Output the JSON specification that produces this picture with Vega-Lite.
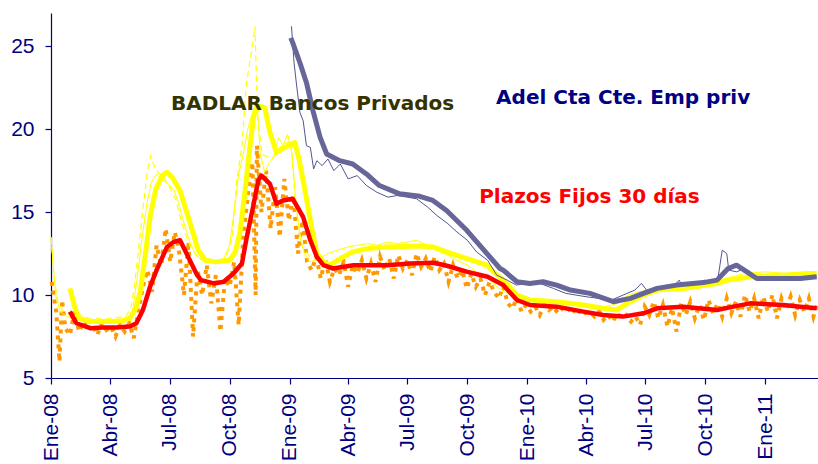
{
  "$schema": "https://vega.github.io/schema/vega-lite/v6.json",
  "width": 767,
  "height": 365,
  "autosize": {"type": "none"},
  "padding": {"left": 51, "top": 13, "right": 0, "bottom": 86},
  "background": "white",
  "config": {"view": {"stroke": null}},
  "datasets": {
    "badlar_ma": [
      {"d":"2008-01-30","v":10.4},{"d":"2008-02-07","v":9.2},{"d":"2008-02-14","v":8.6},{"d":"2008-03-01","v":8.4},{"d":"2008-04-01","v":8.4},{"d":"2008-04-20","v":8.45},{"d":"2008-05-01","v":8.6},{"d":"2008-05-10","v":9.2},{"d":"2008-05-17","v":10.2},{"d":"2008-05-25","v":12.5},{"d":"2008-06-01","v":14.7},{"d":"2008-06-10","v":16.4},{"d":"2008-06-20","v":17.2},{"d":"2008-06-27","v":17.4},{"d":"2008-07-05","v":17.1},{"d":"2008-07-17","v":16.3},{"d":"2008-08-01","v":14.4},{"d":"2008-08-14","v":12.7},{"d":"2008-08-25","v":12.1},{"d":"2008-09-10","v":12.0},{"d":"2008-10-01","v":12.1},{"d":"2008-10-10","v":12.6},{"d":"2008-10-17","v":13.8},{"d":"2008-10-24","v":16.0},{"d":"2008-10-31","v":18.5},{"d":"2008-11-07","v":20.8},{"d":"2008-11-14","v":21.4},{"d":"2008-11-24","v":21.3},{"d":"2008-12-02","v":19.8},{"d":"2008-12-12","v":18.6},{"d":"2008-12-25","v":18.9},{"d":"2009-01-09","v":19.2},{"d":"2009-01-15","v":18.3},{"d":"2009-01-22","v":16.9},{"d":"2009-02-02","v":14.5},{"d":"2009-02-12","v":12.5},{"d":"2009-02-22","v":12.0},{"d":"2009-03-04","v":11.8},{"d":"2009-03-20","v":12.2},{"d":"2009-04-08","v":12.6},{"d":"2009-05-01","v":12.8},{"d":"2009-05-30","v":12.9},{"d":"2009-07-20","v":12.95},{"d":"2009-08-09","v":12.9},{"d":"2009-08-30","v":12.6},{"d":"2009-09-30","v":12.2},{"d":"2009-10-31","v":11.8},{"d":"2009-11-10","v":11.4},{"d":"2009-11-25","v":10.9},{"d":"2009-12-16","v":10.0},{"d":"2010-01-05","v":9.7},{"d":"2010-02-15","v":9.6},{"d":"2010-03-28","v":9.4},{"d":"2010-04-27","v":9.2},{"d":"2010-05-18","v":9.1},{"d":"2010-06-08","v":9.6},{"d":"2010-06-28","v":10.0},{"d":"2010-07-19","v":10.3},{"d":"2010-08-28","v":10.4},{"d":"2010-10-19","v":10.7},{"d":"2010-11-05","v":10.9},{"d":"2010-12-09","v":11.1},{"d":"2011-01-29","v":11.2},{"d":"2011-03-21","v":11.3}
    ],
    "badlar": [
      {"d":"2008-01-01","v":13.5},{"d":"2008-01-05","v":11.5},{"d":"2008-01-09","v":9.8},{"d":"2008-01-15","v":9.0},{"d":"2008-01-22","v":8.8},{"d":"2008-02-01","v":8.6},{"d":"2008-02-15","v":8.5},{"d":"2008-03-01","v":8.4},{"d":"2008-03-15","v":8.5},{"d":"2008-04-01","v":8.4},{"d":"2008-04-15","v":8.5},{"d":"2008-05-01","v":8.7},{"d":"2008-05-06","v":9.2},{"d":"2008-05-12","v":11.0},{"d":"2008-05-20","v":13.5},{"d":"2008-05-27","v":15.5},{"d":"2008-06-03","v":16.8},{"d":"2008-06-11","v":17.3},{"d":"2008-06-18","v":17.0},{"d":"2008-06-25","v":16.8},{"d":"2008-07-01","v":16.6},{"d":"2008-07-08","v":16.3},{"d":"2008-07-15","v":15.5},{"d":"2008-07-24","v":14.2},{"d":"2008-08-01","v":13.2},{"d":"2008-08-10","v":12.4},{"d":"2008-08-20","v":12.1},{"d":"2008-09-01","v":12.0},{"d":"2008-09-20","v":12.0},{"d":"2008-10-01","v":13.0},{"d":"2008-10-08","v":15.0},{"d":"2008-10-15","v":17.3},{"d":"2008-10-22","v":18.5},{"d":"2008-10-29","v":20.0},{"d":"2008-11-05","v":21.0},{"d":"2008-11-12","v":21.8},{"d":"2008-11-17","v":18.5},{"d":"2008-11-24","v":17.4},{"d":"2008-12-01","v":18.0},{"d":"2008-12-08","v":18.3},{"d":"2008-12-15","v":19.5},{"d":"2008-12-22","v":19.0},{"d":"2008-12-29","v":19.7},{"d":"2009-01-05","v":18.5},{"d":"2009-01-10","v":16.0},{"d":"2009-01-17","v":13.5},{"d":"2009-01-24","v":12.5},{"d":"2009-02-01","v":12.0},{"d":"2009-02-15","v":12.2},{"d":"2009-03-01","v":12.5},{"d":"2009-03-15","v":12.7},{"d":"2009-04-01","v":12.9},{"d":"2009-04-15","v":13.0},{"d":"2009-05-01","v":13.1},{"d":"2009-05-15","v":13.0},{"d":"2009-06-01","v":13.2},{"d":"2009-06-15","v":13.1},{"d":"2009-07-01","v":13.2},{"d":"2009-07-15","v":13.3},{"d":"2009-08-01","v":13.0},{"d":"2009-08-15","v":12.7},{"d":"2009-09-01","v":12.4},{"d":"2009-09-15","v":12.1},{"d":"2009-10-01","v":11.8},{"d":"2009-10-15","v":11.4},{"d":"2009-11-01","v":11.0},{"d":"2009-11-15","v":10.5},{"d":"2009-12-01","v":10.1},{"d":"2009-12-15","v":9.9},{"d":"2010-01-01","v":9.8},{"d":"2010-02-01","v":9.7},{"d":"2010-03-01","v":9.5},{"d":"2010-04-01","v":9.4},{"d":"2010-05-01","v":9.3},{"d":"2010-05-20","v":9.5},{"d":"2010-06-05","v":10.0},{"d":"2010-06-20","v":10.2},{"d":"2010-07-10","v":10.3},{"d":"2010-08-10","v":10.5},{"d":"2010-09-10","v":10.5},{"d":"2010-10-10","v":10.8},{"d":"2010-11-01","v":11.0},{"d":"2010-12-01","v":11.3},{"d":"2011-01-01","v":11.4},{"d":"2011-02-01","v":11.3},{"d":"2011-03-01","v":11.4},{"d":"2011-03-21","v":11.4}
    ],
    "badlar2": [
      {"d":"2008-01-01","v":13.5},{"d":"2008-01-06","v":11.0},{"d":"2008-01-12","v":9.5},{"d":"2008-01-20","v":9.0},{"d":"2008-02-01","v":8.8},{"d":"2008-03-01","v":8.6},{"d":"2008-04-01","v":8.6},{"d":"2008-04-25","v":8.7},{"d":"2008-05-03","v":9.3},{"d":"2008-05-08","v":10.5},{"d":"2008-05-15","v":13.0},{"d":"2008-05-22","v":15.5},{"d":"2008-05-28","v":17.5},{"d":"2008-06-02","v":18.4},{"d":"2008-06-09","v":17.6},{"d":"2008-06-16","v":17.3},{"d":"2008-06-23","v":17.0},{"d":"2008-07-01","v":16.5},{"d":"2008-07-10","v":15.8},{"d":"2008-07-20","v":14.3},{"d":"2008-08-01","v":13.0},{"d":"2008-08-15","v":12.2},{"d":"2008-09-01","v":12.0},{"d":"2008-09-25","v":12.2},{"d":"2008-10-05","v":13.5},{"d":"2008-10-12","v":16.9},{"d":"2008-10-20","v":19.0},{"d":"2008-10-27","v":22.8},{"d":"2008-11-03","v":24.5},{"d":"2008-11-09","v":26.2},{"d":"2008-11-13","v":20.7},{"d":"2008-11-20","v":18.5},{"d":"2008-12-05","v":18.2},{"d":"2008-12-20","v":19.0},{"d":"2009-01-03","v":19.3},{"d":"2009-01-10","v":15.5},{"d":"2009-01-20","v":13.0},{"d":"2009-02-01","v":12.3}
    ],
    "pf_ma": [
      {"d":"2008-01-30","v":9.0},{"d":"2008-02-09","v":8.3},{"d":"2008-03-01","v":8.0},{"d":"2008-03-20","v":8.05},{"d":"2008-04-10","v":8.05},{"d":"2008-05-01","v":8.1},{"d":"2008-05-11","v":8.3},{"d":"2008-05-21","v":9.1},{"d":"2008-06-01","v":10.5},{"d":"2008-06-11","v":11.5},{"d":"2008-06-27","v":12.9},{"d":"2008-07-07","v":13.2},{"d":"2008-07-17","v":13.3},{"d":"2008-07-27","v":12.5},{"d":"2008-08-11","v":11.3},{"d":"2008-08-18","v":10.9},{"d":"2008-09-07","v":10.7},{"d":"2008-09-22","v":10.8},{"d":"2008-10-07","v":11.3},{"d":"2008-10-20","v":11.9},{"d":"2008-10-27","v":13.4},{"d":"2008-11-06","v":15.3},{"d":"2008-11-14","v":16.9},{"d":"2008-11-19","v":17.2},{"d":"2008-12-02","v":16.7},{"d":"2008-12-12","v":15.5},{"d":"2008-12-22","v":15.7},{"d":"2009-01-06","v":15.8},{"d":"2009-01-22","v":14.7},{"d":"2009-02-02","v":13.3},{"d":"2009-02-12","v":12.3},{"d":"2009-02-22","v":11.8},{"d":"2009-03-09","v":11.6},{"d":"2009-04-09","v":11.8},{"d":"2009-05-31","v":11.8},{"d":"2009-07-05","v":11.9},{"d":"2009-08-10","v":11.95},{"d":"2009-09-01","v":11.75},{"d":"2009-10-01","v":11.4},{"d":"2009-11-01","v":11.1},{"d":"2009-11-25","v":10.6},{"d":"2009-12-16","v":9.7},{"d":"2010-01-05","v":9.4},{"d":"2010-02-15","v":9.3},{"d":"2010-03-28","v":9.0},{"d":"2010-04-27","v":8.8},{"d":"2010-05-28","v":8.7},{"d":"2010-06-28","v":8.9},{"d":"2010-07-19","v":9.2},{"d":"2010-08-28","v":9.3},{"d":"2010-10-19","v":9.1},{"d":"2010-11-13","v":9.3},{"d":"2010-12-09","v":9.5},{"d":"2011-01-29","v":9.4},{"d":"2011-02-24","v":9.3},{"d":"2011-03-21","v":9.2}
    ],
    "pf": [
      {"d":"2008-01-02","v":10.8},{"d":"2008-01-09","v":9.0},{"d":"2008-01-14","v":6.0},{"d":"2008-01-18","v":9.7},{"d":"2008-01-23","v":8.0},{"d":"2008-01-30","v":7.6},{"d":"2008-02-06","v":9.0},{"d":"2008-02-13","v":7.8},{"d":"2008-02-20","v":8.4},{"d":"2008-02-27","v":7.9},{"d":"2008-03-05","v":8.2},{"d":"2008-03-12","v":7.6},{"d":"2008-03-19","v":8.3},{"d":"2008-03-26","v":7.9},{"d":"2008-04-02","v":8.1},{"d":"2008-04-09","v":7.5},{"d":"2008-04-16","v":8.2},{"d":"2008-04-23","v":7.8},{"d":"2008-04-30","v":8.3},{"d":"2008-05-07","v":7.4},{"d":"2008-05-14","v":9.0},{"d":"2008-05-21","v":10.5},{"d":"2008-05-28","v":11.5},{"d":"2008-06-04","v":10.2},{"d":"2008-06-11","v":13.0},{"d":"2008-06-18","v":11.8},{"d":"2008-06-25","v":14.0},{"d":"2008-07-02","v":12.0},{"d":"2008-07-09","v":13.8},{"d":"2008-07-16","v":12.5},{"d":"2008-07-23","v":10.0},{"d":"2008-07-30","v":13.2},{"d":"2008-08-06","v":7.5},{"d":"2008-08-13","v":11.5},{"d":"2008-08-20","v":10.0},{"d":"2008-08-27","v":11.8},{"d":"2008-09-03","v":9.5},{"d":"2008-09-10","v":11.2},{"d":"2008-09-17","v":7.8},{"d":"2008-09-24","v":11.0},{"d":"2008-10-01","v":10.5},{"d":"2008-10-08","v":12.0},{"d":"2008-10-15","v":8.2},{"d":"2008-10-22","v":13.5},{"d":"2008-10-29","v":16.0},{"d":"2008-11-05","v":18.0},{"d":"2008-11-10","v":10.0},{"d":"2008-11-12","v":19.0},{"d":"2008-11-19","v":15.0},{"d":"2008-11-26","v":17.5},{"d":"2008-12-03","v":14.0},{"d":"2008-12-10","v":16.5},{"d":"2008-12-17","v":13.5},{"d":"2008-12-24","v":17.0},{"d":"2008-12-31","v":14.5},{"d":"2009-01-07","v":16.0},{"d":"2009-01-14","v":12.5},{"d":"2009-01-21","v":14.5},{"d":"2009-01-28","v":12.0},{"d":"2009-02-04","v":11.5},{"d":"2009-02-11","v":12.3},{"d":"2009-02-18","v":11.0},{"d":"2009-02-25","v":12.2},{"d":"2009-03-04","v":10.8},{"d":"2009-03-11","v":11.6},{"d":"2009-03-18","v":11.2},{"d":"2009-03-25","v":12.0},{"d":"2009-04-01","v":10.5},{"d":"2009-04-08","v":11.8},{"d":"2009-04-15","v":11.3},{"d":"2009-04-22","v":12.1},{"d":"2009-04-29","v":11.0},{"d":"2009-05-06","v":11.9},{"d":"2009-05-13","v":10.8},{"d":"2009-05-20","v":12.3},{"d":"2009-05-27","v":11.5},{"d":"2009-06-03","v":12.2},{"d":"2009-06-10","v":11.0},{"d":"2009-06-17","v":12.4},{"d":"2009-06-24","v":11.6},{"d":"2009-07-01","v":12.1},{"d":"2009-07-08","v":11.2},{"d":"2009-07-15","v":12.5},{"d":"2009-07-22","v":11.7},{"d":"2009-07-29","v":12.2},{"d":"2009-08-05","v":11.4},{"d":"2009-08-12","v":12.3},{"d":"2009-08-19","v":11.5},{"d":"2009-08-26","v":11.9},{"d":"2009-09-02","v":10.8},{"d":"2009-09-09","v":11.8},{"d":"2009-09-16","v":11.0},{"d":"2009-09-23","v":11.5},{"d":"2009-09-30","v":10.4},{"d":"2009-10-07","v":11.3},{"d":"2009-10-14","v":10.5},{"d":"2009-10-21","v":11.0},{"d":"2009-10-28","v":10.0},{"d":"2009-11-04","v":10.8},{"d":"2009-11-11","v":10.2},{"d":"2009-11-18","v":9.8},{"d":"2009-11-25","v":10.5},{"d":"2009-12-02","v":9.5},{"d":"2009-12-09","v":9.2},{"d":"2009-12-16","v":9.8},{"d":"2009-12-23","v":9.0},{"d":"2009-12-30","v":9.4},{"d":"2010-01-06","v":9.0},{"d":"2010-01-13","v":9.3},{"d":"2010-01-20","v":8.8},{"d":"2010-01-27","v":9.4},{"d":"2010-02-03","v":9.1},{"d":"2010-02-10","v":9.3},{"d":"2010-02-17","v":8.9},{"d":"2010-02-24","v":9.2},{"d":"2010-03-03","v":9.0},{"d":"2010-03-10","v":9.3},{"d":"2010-03-17","v":8.8},{"d":"2010-03-24","v":9.1},{"d":"2010-03-31","v":8.9},{"d":"2010-04-07","v":9.0},{"d":"2010-04-14","v":8.7},{"d":"2010-04-21","v":9.0},{"d":"2010-04-28","v":8.5},{"d":"2010-05-05","v":8.8},{"d":"2010-05-12","v":8.4},{"d":"2010-05-19","v":8.9},{"d":"2010-05-26","v":8.6},{"d":"2010-06-02","v":8.8},{"d":"2010-06-09","v":8.4},{"d":"2010-06-16","v":8.7},{"d":"2010-06-23","v":8.2},{"d":"2010-06-30","v":9.3},{"d":"2010-07-07","v":8.8},{"d":"2010-07-14","v":9.6},{"d":"2010-07-21","v":8.6},{"d":"2010-07-28","v":9.4},{"d":"2010-08-04","v":8.1},{"d":"2010-08-11","v":9.2},{"d":"2010-08-18","v":7.8},{"d":"2010-08-25","v":9.5},{"d":"2010-09-01","v":8.8},{"d":"2010-09-08","v":9.6},{"d":"2010-09-15","v":8.6},{"d":"2010-09-22","v":9.4},{"d":"2010-09-29","v":8.5},{"d":"2010-10-06","v":9.7},{"d":"2010-10-13","v":8.9},{"d":"2010-10-20","v":9.5},{"d":"2010-10-27","v":8.7},{"d":"2010-11-03","v":9.8},{"d":"2010-11-10","v":8.9},{"d":"2010-11-17","v":9.6},{"d":"2010-11-24","v":8.7},{"d":"2010-12-01","v":10.0},{"d":"2010-12-08","v":9.0},{"d":"2010-12-15","v":9.8},{"d":"2010-12-22","v":8.6},{"d":"2010-12-29","v":9.9},{"d":"2011-01-05","v":9.0},{"d":"2011-01-12","v":10.0},{"d":"2011-01-19","v":8.6},{"d":"2011-01-26","v":9.8},{"d":"2011-02-02","v":9.1},{"d":"2011-02-09","v":9.9},{"d":"2011-02-16","v":8.8},{"d":"2011-02-23","v":9.7},{"d":"2011-03-02","v":9.0},{"d":"2011-03-09","v":9.8},{"d":"2011-03-16","v":8.7},{"d":"2011-03-22","v":9.5}
    ],
    "adel_ma": [
      {"d":"2009-01-03","v":25.5},{"d":"2009-01-06","v":25.2},{"d":"2009-01-17","v":24.0},{"d":"2009-01-27","v":22.8},{"d":"2009-02-06","v":21.1},{"d":"2009-02-17","v":19.5},{"d":"2009-02-27","v":18.5},{"d":"2009-03-19","v":18.1},{"d":"2009-04-08","v":17.9},{"d":"2009-04-29","v":17.3},{"d":"2009-05-19","v":16.6},{"d":"2009-06-19","v":16.1},{"d":"2009-07-20","v":15.95},{"d":"2009-08-09","v":15.7},{"d":"2009-08-30","v":15.1},{"d":"2009-09-30","v":13.9},{"d":"2009-10-31","v":12.5},{"d":"2009-11-20","v":11.6},{"d":"2009-11-25","v":11.5},{"d":"2009-12-16","v":10.8},{"d":"2010-01-05","v":10.7},{"d":"2010-01-25","v":10.8},{"d":"2010-02-15","v":10.6},{"d":"2010-03-08","v":10.3},{"d":"2010-04-07","v":10.1},{"d":"2010-05-13","v":9.6},{"d":"2010-06-08","v":9.8},{"d":"2010-06-28","v":10.1},{"d":"2010-07-19","v":10.4},{"d":"2010-08-18","v":10.6},{"d":"2010-09-28","v":10.75},{"d":"2010-10-19","v":10.9},{"d":"2010-11-05","v":11.6},{"d":"2010-11-18","v":11.8},{"d":"2010-12-04","v":11.4},{"d":"2010-12-19","v":11.0},{"d":"2011-01-29","v":11.0},{"d":"2011-02-24","v":11.0},{"d":"2011-03-21","v":11.1}
    ],
    "adel": [
      {"d":"2009-01-04","v":26.2},{"d":"2009-01-08","v":24.0},{"d":"2009-01-12","v":22.6},{"d":"2009-01-17","v":21.0},{"d":"2009-01-22","v":20.5},{"d":"2009-01-27","v":19.0},{"d":"2009-02-02","v":18.9},{"d":"2009-02-07","v":17.6},{"d":"2009-02-12","v":18.1},{"d":"2009-02-20","v":17.8},{"d":"2009-03-01","v":18.2},{"d":"2009-03-10","v":17.5},{"d":"2009-03-20","v":17.9},{"d":"2009-04-01","v":17.0},{"d":"2009-04-15","v":17.2},{"d":"2009-04-29","v":16.6},{"d":"2009-05-15","v":16.2},{"d":"2009-06-01","v":15.9},{"d":"2009-06-15","v":16.0},{"d":"2009-07-01","v":15.9},{"d":"2009-07-15","v":15.8},{"d":"2009-08-01","v":15.3},{"d":"2009-08-15","v":14.8},{"d":"2009-09-01","v":14.3},{"d":"2009-09-15","v":13.8},{"d":"2009-10-01","v":13.3},{"d":"2009-10-15","v":12.6},{"d":"2009-11-01","v":12.1},{"d":"2009-11-15","v":11.2},{"d":"2009-12-01","v":10.9},{"d":"2009-12-15","v":10.6},{"d":"2010-01-01","v":10.7},{"d":"2010-01-20","v":10.7},{"d":"2010-02-10","v":10.4},{"d":"2010-03-01","v":10.1},{"d":"2010-04-01","v":9.9},{"d":"2010-04-20","v":9.8},{"d":"2010-05-10","v":9.7},{"d":"2010-05-28","v":10.0},{"d":"2010-06-15","v":10.3},{"d":"2010-06-25","v":10.7},{"d":"2010-07-05","v":10.2},{"d":"2010-07-25","v":10.5},{"d":"2010-08-15","v":10.6},{"d":"2010-08-22","v":10.9},{"d":"2010-08-26","v":10.6},{"d":"2010-09-20","v":10.7},{"d":"2010-09-30","v":10.9},{"d":"2010-10-05","v":10.8},{"d":"2010-10-20","v":10.9},{"d":"2010-10-27","v":12.7},{"d":"2010-11-03","v":12.5},{"d":"2010-11-06","v":11.5},{"d":"2010-11-18","v":11.4},{"d":"2010-12-01","v":11.6},{"d":"2010-12-15","v":11.1},{"d":"2011-01-01","v":11.0},{"d":"2011-02-01","v":11.0},{"d":"2011-03-01","v":11.0},{"d":"2011-03-21","v":11.1}
    ],
    "labels": [
      {"d":"2008-07-03","v":21.14,"t":"BADLAR Bancos Privados"},
      {"d":"2009-11-14","v":21.5,"t":"Adel Cta Cte. Emp priv"},
      {"d":"2009-10-19","v":15.54,"t":"Plazos Fijos 30 días"}
    ]
  },
  "encoding": {
    "x": {
      "field": "d",
      "type": "temporal",
      "scale": {"type": "utc", "domain": [{"year": 2008, "month": 1, "date": 1, "utc": true}, {"year": 2011, "month": 3, "date": 23, "utc": true}]},
      "axis": {
        "title": null,
        "grid": false,
        "values": [
          {"year": 2008, "month": 1, "date": 1, "utc": true},
          {"year": 2008, "month": 4, "date": 1, "utc": true},
          {"year": 2008, "month": 7, "date": 1, "utc": true},
          {"year": 2008, "month": 10, "date": 1, "utc": true},
          {"year": 2009, "month": 1, "date": 1, "utc": true},
          {"year": 2009, "month": 4, "date": 1, "utc": true},
          {"year": 2009, "month": 7, "date": 1, "utc": true},
          {"year": 2009, "month": 10, "date": 1, "utc": true},
          {"year": 2010, "month": 1, "date": 1, "utc": true},
          {"year": 2010, "month": 4, "date": 1, "utc": true},
          {"year": 2010, "month": 7, "date": 1, "utc": true},
          {"year": 2010, "month": 10, "date": 1, "utc": true},
          {"year": 2011, "month": 1, "date": 1, "utc": true}
        ],
        "labelExpr": "['Ene','Feb','Mar','Abr','May','Jun','Jul','Ago','Sep','Oct','Nov','Dic'][utcmonth(datum.value)] + '-' + utcFormat(datum.value, '%y')",
        "labelAngle": -90,
        "labelFont": "Liberation Sans",
        "labelFontSize": 21,
        "labelColor": "#000080",
        "labelPadding": 9,
        "labelOverlap": false,
        "labelFlush": false,
        "domainColor": "#000080",
        "domainWidth": 1.2,
        "tickColor": "#000080",
        "tickSize": 6,
        "tickWidth": 1.2
      }
    },
    "y": {
      "field": "v",
      "type": "quantitative",
      "scale": {"domain": [5, 27], "nice": false, "zero": false},
      "axis": {
        "title": null,
        "grid": false,
        "values": [5, 10, 15, 20, 25],
        "labelFont": "Liberation Sans",
        "labelFontSize": 21,
        "labelColor": "#000080",
        "labelPadding": 11,
        "domainColor": "#000080",
        "domainWidth": 1.2,
        "tickColor": "#000080",
        "tickSize": 6,
        "tickWidth": 1.2
      }
    }
  },
  "layer": [
    {"data": {"name": "pf"}, "mark": {"type": "line", "color": "#FF9900", "strokeWidth": 4, "strokeDash": [4, 5], "strokeCap": "butt"}},
    {"data": {"name": "badlar"}, "mark": {"type": "line", "color": "#FFFF00", "strokeWidth": 1}},
    {"data": {"name": "badlar2"}, "mark": {"type": "line", "color": "#FFFF00", "strokeWidth": 1.2, "strokeDash": [6, 4]}},
    {"data": {"name": "badlar_ma"}, "mark": {"type": "line", "color": "#FFFF00", "strokeWidth": 5, "strokeJoin": "round"}},
    {"data": {"name": "adel"}, "mark": {"type": "line", "color": "#555590", "strokeWidth": 1}},
    {"data": {"name": "adel_ma"}, "mark": {"type": "line", "color": "#666699", "strokeWidth": 5, "strokeJoin": "round"}},
    {"data": {"name": "pf_ma"}, "mark": {"type": "line", "color": "#FF0000", "strokeWidth": 4.5, "strokeJoin": "round"}},
    {
      "data": {"name": "labels"},
      "mark": {"type": "text", "align": "left", "baseline": "alphabetic", "font": "DejaVu Sans", "fontWeight": "bold", "fontSize": 20},
      "encoding": {
        "text": {"field": "t", "type": "nominal"},
        "color": {"field": "t", "type": "nominal", "legend": null, "scale": {"domain": ["BADLAR Bancos Privados", "Adel Cta Cte. Emp priv", "Plazos Fijos 30 días"], "range": ["#333300", "#000080", "#FF0000"]}}
      }
    }
  ]
}
